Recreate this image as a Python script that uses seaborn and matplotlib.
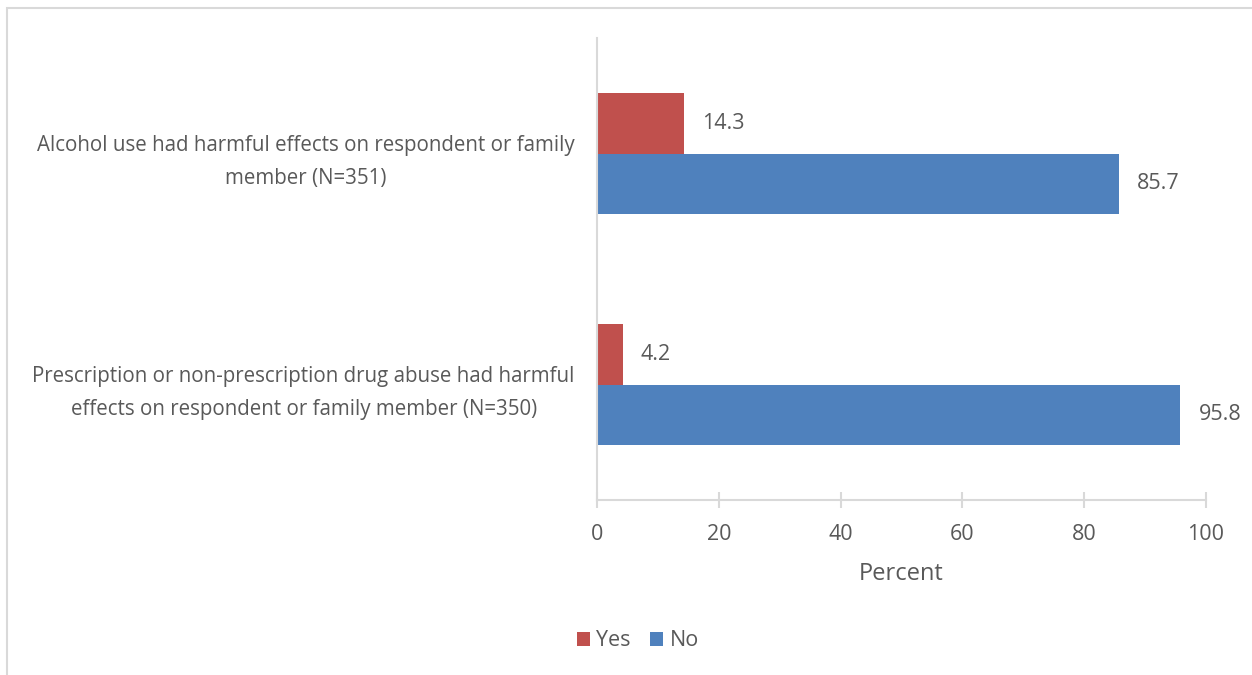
import pandas as pd
import matplotlib
matplotlib.use("Agg")
import matplotlib.pyplot as plt
import seaborn as sns
from matplotlib.patches import Rectangle

# Data
categories = [
    "Alcohol use had harmful effects on respondent or family\nmember (N=351)",
    "Prescription or non-prescription drug abuse had harmful\neffects on respondent or family member (N=350)",
]
yes_values = [14.3, 4.2]
no_values = [85.7, 95.8]
responses = ["Yes", "No"]
colors = ["#C0504D", "#4F81BD"]

df = pd.DataFrame({
    "Item": categories * 2,
    "Response": ["Yes"] * len(categories) + ["No"] * len(categories),
    "Percent": yes_values + no_values,
})

sns.set_theme(style="white")
plt.rcParams["font.family"] = ["Open Sans", "DejaVu Sans"]
text_color = "#595959"
axis_color = "#D9D9D9"

fig = plt.figure(figsize=(12.52, 6.75), dpi=100)
ax = fig.add_axes([597 / 1252, 1 - 500 / 675, (1206 - 597) / 1252, (500 - 38) / 675])

sns.barplot(
    data=df,
    x="Percent",
    y="Item",
    hue="Response",
    hue_order=responses,
    palette=colors,
    orient="h",
    width=0.52,
    saturation=1,
    linewidth=0,
    edgecolor="none",
    ax=ax,
)

# value labels
for container in ax.containers:
    ax.bar_label(container, fmt="%.1f", padding=13, fontsize=15.5, color=text_color)

ax.set_xlim(0, 100)
ax.set_xticks([0, 20, 40, 60, 80, 100])
ax.set_xlabel("Percent", fontsize=17, color=text_color, labelpad=12)
ax.set_ylabel("")

for side in ["top", "right"]:
    ax.spines[side].set_visible(False)
for side in ["left", "bottom"]:
    ax.spines[side].set_color(axis_color)
    ax.spines[side].set_linewidth(1.5)

ax.tick_params(axis="x", bottom=True, direction="inout", length=11, width=1.5, color=axis_color,
               labelsize=15.5, labelcolor=text_color, pad=12)
ax.tick_params(axis="y", left=False, length=0, labelsize=14.8, labelcolor=text_color, pad=16)
for lbl in ax.get_yticklabels():
    lbl.set_multialignment("center")
    lbl.set_linespacing(1.75)

# legend at the bottom
handles, labels = ax.get_legend_handles_labels()
ax.get_legend().remove()
fig.legend(handles, labels, loc="center", bbox_to_anchor=(638 / 1252, 1 - 641 / 675),
           ncol=2, frameon=False, fontsize=15.5, labelcolor=text_color,
           handlelength=0.6, handleheight=0.6, handletextpad=0.3, columnspacing=0.9)

# chart area border (cut off at right and bottom)
fig.patches.append(Rectangle((7 / 1252, -0.1), 1.2, 1.1 - 8 / 675, transform=fig.transFigure,
                             fill=False, edgecolor=axis_color, linewidth=1.5))

fig.savefig("out.png", dpi=100)
